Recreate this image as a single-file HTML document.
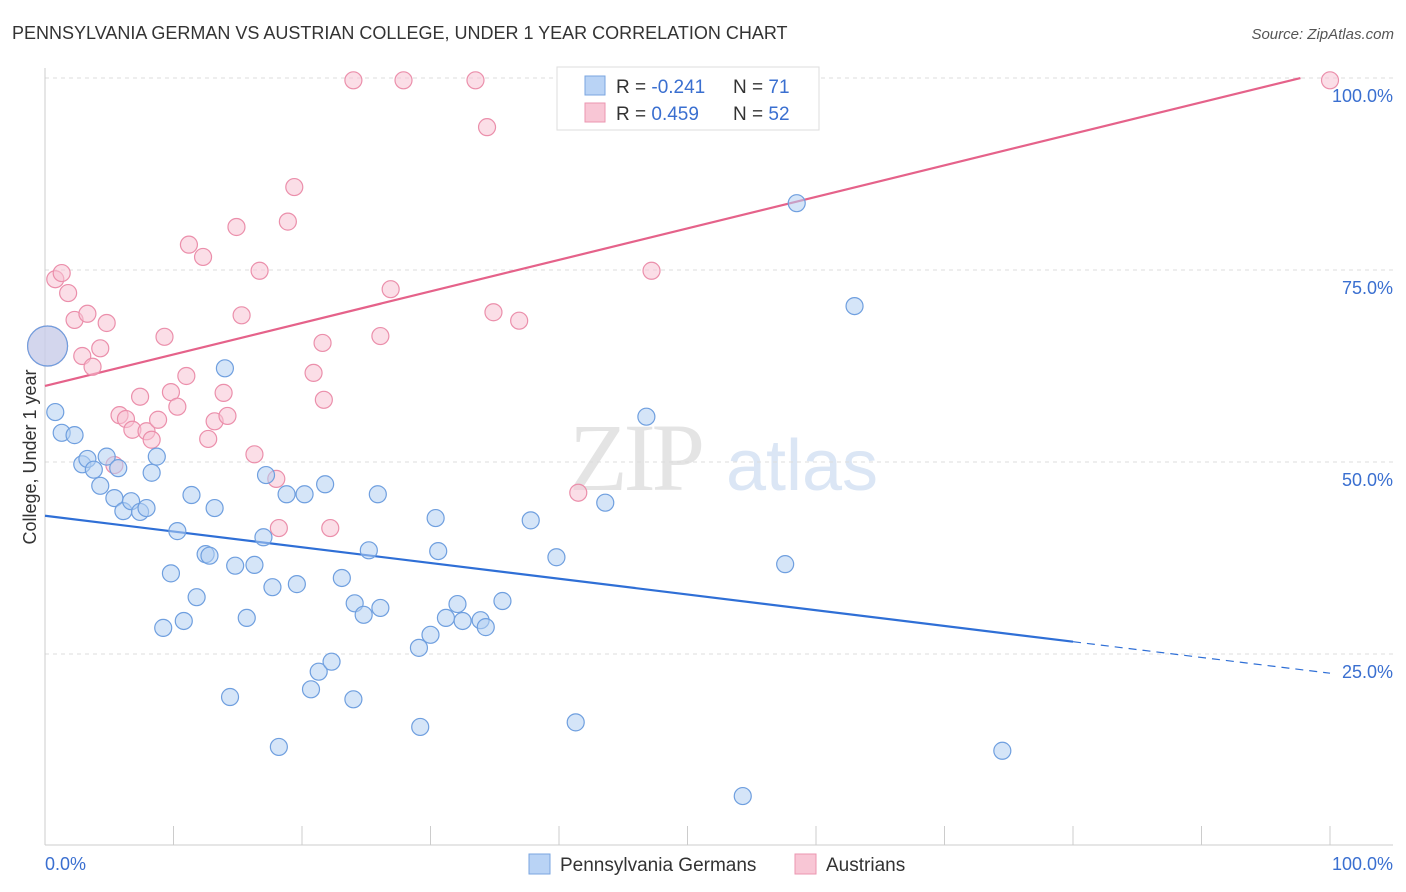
<!DOCTYPE html>
<html><head><meta charset="utf-8">
<style>
body{margin:0;background:#fff;font-family:"Liberation Sans",sans-serif;}
svg{display:block}
</style></head>
<body>
<svg id="chart" width="1406" height="892">
<text x="12" y="39" font-size="18" fill="#333">PENNSYLVANIA GERMAN VS AUSTRIAN COLLEGE, UNDER 1 YEAR CORRELATION CHART</text>
<text x="1394" y="39" font-size="15" fill="#555" font-style="italic" text-anchor="end">Source: ZipAtlas.com</text>
<g>
<text x="635" y="490" font-size="96" fill="#e4e4e4" text-anchor="middle" font-family="Liberation Serif,serif" letter-spacing="-4">ZIP</text>
<text x="802" y="490" font-size="72" fill="#dbe6f5" text-anchor="middle">atlas</text>
</g>
<g id="grid"></g>
<g id="axes"></g>
<g id="lines"></g>
<g id="pts"></g>
<text x="36" y="457" font-size="18" fill="#333" text-anchor="middle" transform="rotate(-90 36 457)">College, Under 1 year</text>
<g>
<rect x="557" y="67" width="262" height="63" fill="#fff" stroke="#ddd"/>
<rect x="585" y="76" width="20" height="19" fill="#b9d3f5" stroke="#7aa6e0"/>
<rect x="585" y="103" width="20" height="19" fill="#f8c6d5" stroke="#eb96b0"/>
<text x="616" y="93" font-size="19" fill="#333">R = <tspan fill="#3a6fd0">-0.241</tspan></text>
<text x="733" y="93" font-size="19" fill="#333">N = <tspan fill="#3a6fd0"> 71</tspan></text>
<text x="616" y="120" font-size="19" fill="#333">R = <tspan fill="#3a6fd0"> 0.459</tspan></text>
<text x="733" y="120" font-size="19" fill="#333">N = <tspan fill="#3a6fd0">52</tspan></text>
</g>
<g>
<rect x="529" y="854" width="21" height="20" fill="#b9d3f5" stroke="#7aa6e0"/>
<text x="560" y="871" font-size="19" fill="#333">Pennsylvania Germans</text>
<rect x="795" y="854" width="21" height="20" fill="#f8c6d5" stroke="#eb96b0"/>
<text x="826" y="871" font-size="19" fill="#333">Austrians</text>
</g>
</svg>
<script>
const blueX=[0.2,0.8,1.3,2.3,2.9,3.3,3.8,4.3,4.8,5.7,5.4,6.1,6.7,7.4,7.9,8.3,8.7,9.2,9.8,10.3,10.8,11.4,11.8,12.5,12.8,13.2,14.0,14.4,14.8,15.7,16.3,17.0,17.2,17.7,18.2,18.8,19.6,20.2,20.7,21.3,21.8,22.3,23.1,24.0,24.1,24.8,25.2,25.9,26.1,29.1,29.2,30.0,30.4,30.6,31.2,32.1,32.5,33.9,34.3,35.6,37.8,39.8,41.3,43.6,46.8,54.3,57.6,58.5,63.0,74.5];
const blueY=[65.1,56.5,53.8,53.5,49.7,50.4,49.0,46.9,50.7,49.2,45.3,43.6,44.9,43.5,44.0,48.6,50.7,28.4,35.5,41.0,29.3,45.7,32.4,38.0,37.8,44.0,62.2,19.4,36.5,29.7,36.6,40.2,48.3,33.7,12.9,45.8,34.1,45.8,20.4,22.7,47.1,24.0,34.9,19.1,31.6,30.1,38.5,45.8,31.0,25.8,15.5,27.5,42.7,38.4,29.7,31.5,29.3,29.4,28.5,31.9,42.4,37.6,16.1,44.7,55.9,6.5,36.7,83.7,70.3,12.4];
const pinkX=[0.2,0.8,1.3,1.8,2.3,2.9,3.3,3.7,4.3,4.8,5.4,5.8,6.3,6.8,7.4,7.9,8.3,8.8,9.3,9.8,10.3,11.0,11.2,12.3,12.7,13.2,13.9,14.2,14.9,15.3,16.3,16.7,18.0,18.2,18.9,19.4,20.9,21.6,21.7,22.2,24.0,26.1,26.9,27.9,33.5,34.4,34.9,36.9,41.5,47.2,52.5,100];
const pinkY=[65.1,73.8,74.6,72.0,68.5,63.8,69.3,62.4,64.8,68.1,49.6,56.1,55.6,54.2,58.5,54.0,52.9,55.5,66.3,59.1,57.2,61.2,78.3,76.7,53.0,55.3,59.0,56.0,80.6,69.1,51.0,74.9,47.8,41.4,81.3,85.8,61.6,65.5,58.1,41.4,99.7,66.4,72.5,99.7,99.7,93.6,69.5,68.4,46.0,74.9,96.2,99.7];
const yTicks=[25,50,75,100];
const yTickLabels=["25.0%","50.0%","75.0%","100.0%"];
const xTickLabels=["0.0%","100.0%"];
const blueTrend=[43.0,22.5];
const pinkTrend=[59.9,100.94];
const blueSolidEnd=80;
const pinkEnd=97.7;

const NS="http://www.w3.org/2000/svg";
const sx=v=>45+v*12.85, sy=v=>846-v*7.68;
function mk(tag,attrs,parent){const e=document.createElementNS(NS,tag);for(const k in attrs)e.setAttribute(k,attrs[k]);parent.appendChild(e);return e;}
const grid=document.getElementById('grid'),axes=document.getElementById('axes'),lines=document.getElementById('lines'),pts=document.getElementById('pts');
yTicks.forEach((t,i)=>{
  const l=mk('line',{x1:45,x2:1393,y1:sy(t),y2:sy(t),stroke:'#ddd','stroke-dasharray':'4,4'},grid);
  
  
  const tx=mk('text',{x:1393,y:sy(t)+24,'font-size':18,fill:'#3a6fd0','text-anchor':'end'},axes);
  tx.textContent=yTickLabels[i];
  
  
});
const ax=mk('line',{x1:45,x2:1393,y1:845,y2:845,stroke:'#ccc'},axes);


const ay=mk('line',{x1:45,x2:45,y1:68,y2:845,stroke:'#ccc'},axes);


for(let i=0;i<=10;i++){
  const t=mk('line',{x1:sx(i*10),x2:sx(i*10),y1:826,y2:845,stroke:'#ccc'},axes);
  
  
}
const xl0=mk('text',{x:45,y:870,'font-size':18,fill:'#3a6fd0'},axes);xl0.textContent=xTickLabels[0];


const xl1=mk('text',{x:1393,y:870,'font-size':18,fill:'#3a6fd0','text-anchor':'end'},axes);xl1.textContent=xTickLabels[1];



const bAt=x=>blueTrend[0]+(blueTrend[1]-blueTrend[0])*x/100;
const pAt=x=>pinkTrend[0]+(pinkTrend[1]-pinkTrend[0])*x/100;
const bl=mk('line',{x1:sx(0),y1:sy(bAt(0)),x2:sx(blueSolidEnd),y2:sy(bAt(blueSolidEnd)),stroke:'#2f6fd6','stroke-width':2.2},lines);


const bd=mk('line',{x1:sx(blueSolidEnd),y1:sy(bAt(blueSolidEnd)),x2:sx(100),y2:sy(bAt(100)),stroke:'#2f6fd6','stroke-width':1.2,'stroke-dasharray':'8,6'},lines);


const pl=mk('line',{x1:sx(0),y1:sy(pAt(0)),x2:sx(pinkEnd),y2:sy(pAt(pinkEnd)),stroke:'#e5628a','stroke-width':2.2},lines);



function dots(X,Y,fill,stroke,name){
  X.forEach((x,i)=>{
    const r=(i===0&&x<1)?20:8.5;
    const c=mk('circle',{cx:sx(x),cy:sy(Y[i]),r:r,fill:fill,'fill-opacity':0.55,stroke:stroke,'stroke-width':1.2},pts);
    
    
  });
}
dots(pinkX,pinkY,'#f8c3d3','#eb8fab','austrian-point');
dots(blueX,blueY,'#b3cff3','#6f9fdf','pennsylvania-german-point');
</script>
</body></html>
